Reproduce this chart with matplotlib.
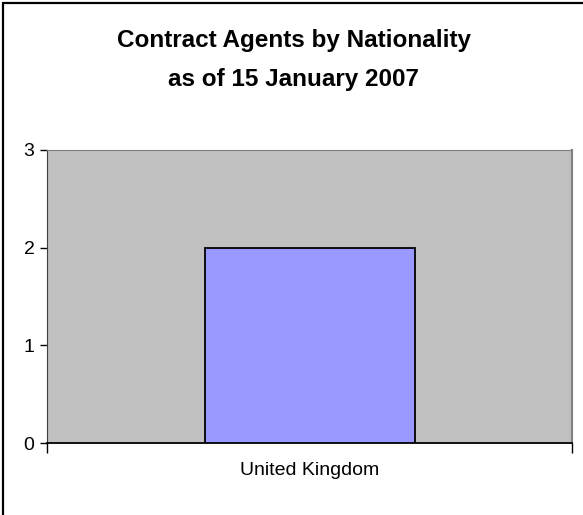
import numpy as np
import matplotlib.pyplot as plt
from matplotlib.patches import Rectangle

plt.rcParams['font.family'] = ['Liberation Sans', 'DejaVu Sans']

categories = ['United Kingdom']
agents     = [2]
yticks     = [0, 1, 2, 3]
title1     = 'Contract Agents by Nationality'
title2     = 'as of 15 January 2007'

W, H = 583, 515
fig = plt.figure(figsize=(W/100, H/100), dpi=100)

# outer chart frame (right/bottom edges run off the picture)
fig.patches.append(Rectangle((3/W, -0.2), 1.2, 1.2 - 3/H + 0.0, transform=fig.transFigure,
                             fill=False, edgecolor='black', linewidth=1.6))

ax = fig.add_axes([47/W, 1 - 443/H, (572-47)/W, (443-150)/H])
ax.set_facecolor('#C0C0C0')

x = np.arange(len(categories))
ax.bar(x, agents, width=0.4, color='#9999FF', edgecolor='black', linewidth=1.3, zorder=3)

ax.set_xlim(-0.5, len(categories) - 0.5)
ax.set_ylim(0, 3)
ax.set_yticks(yticks)
ax.set_yticklabels([str(v) for v in yticks], fontsize=14)
ax.set_xticks(x)
ax.set_xticklabels(categories, fontsize=14)
ax.tick_params(axis='x', length=0, pad=14)
ax.tick_params(axis='y', length=5, width=1, direction='out', pad=4)
# category boundary ticks
ax.set_xticks([-0.5, 0.5], minor=True)
ax.tick_params(axis='x', which='minor', length=7, width=1, direction='out')

ax.spines['top'].set_color('#808080')
ax.spines['right'].set_color('#808080')
ax.spines['right'].set_linewidth(1.5)
ax.spines['left'].set_color('#404040')
ax.spines['bottom'].set_color('black')
ax.spines['bottom'].set_linewidth(1.3)

fig.text(294/W, 1 - 41/H, title1, ha='center', va='center', fontsize=17.5, fontweight='bold')
fig.text(294/W, 1 - 79/H, title2, ha='center', va='center', fontsize=17.5, fontweight='bold')

fig.savefig('out.png', dpi=100)
